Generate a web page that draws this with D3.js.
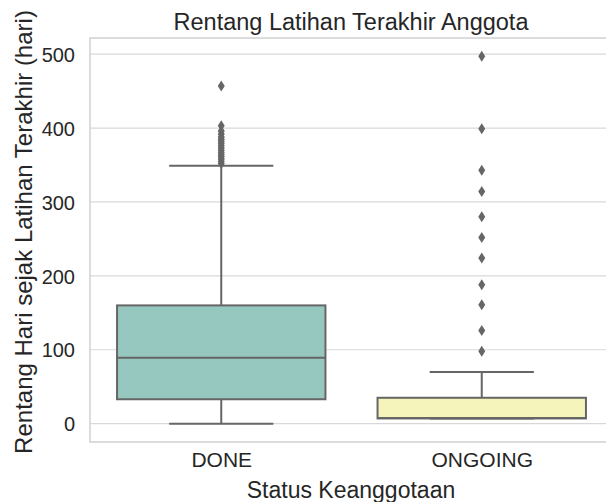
<!DOCTYPE html>
<html>
<head>
<meta charset="utf-8">
<script src="https://cdn.jsdelivr.net/npm/d3@7/dist/d3.min.js"></script>
<style>
  html, body { margin: 0; padding: 0; background: #ffffff; }
  svg { display: block; }
  text { font-family: "Liberation Sans", Arial, sans-serif; fill: #262626; }
</style>
</head>
<body>
<svg id="chart" width="606" height="502"></svg>
<script>
// ---- data ----
const categories = ["DONE", "ONGOING"];
const q1Values = [33, 7];
const medianValues = [89, 7.5];
const q3Values = [160, 35];
const whiskerLow = [0, 7];
const whiskerHigh = [349, 70];
const outliersDone = [352, 355, 358, 361, 364, 367, 370, 373, 376, 379, 382, 385, 388, 392, 396, 403, 457];
const outliersOngoing = [98, 126, 161, 188, 224, 252, 280, 314, 343, 399, 497];
const yTicks = [0, 100, 200, 300, 400, 500];
const fillColors = ["#96c8bf", "#f5f5bb"];

const outliers = [outliersDone, outliersOngoing];
const boxes = categories.map((c, i) => ({
  cat: c, q1: q1Values[i], med: medianValues[i], q3: q3Values[i],
  lo: whiskerLow[i], hi: whiskerHigh[i], out: outliers[i], fill: fillColors[i]
}));

// ---- layout ----
const svg = d3.select("#chart");
const pLeft = 90, pTop = 38, pBottom = 442, pRight = 612;
const lineColor = "#666666";

const x = d3.scalePoint().domain(categories).range([91, 612]).padding(0.5);
const step = x.step();
const y = d3.scaleLinear().domain([-24.85, 521.85]).range([pBottom, pTop]);

// grid
svg.append("g").selectAll("line").data(yTicks).join("line")
  .attr("x1", pLeft).attr("x2", pRight)
  .attr("y1", d => y(d)).attr("y2", d => y(d))
  .attr("stroke", "#d9d9d9").attr("stroke-width", 1.2);

// frame
svg.append("rect").attr("x", pLeft).attr("y", pTop)
  .attr("width", pRight - pLeft).attr("height", pBottom - pTop)
  .attr("fill", "none").attr("stroke", "#d4d4d4").attr("stroke-width", 1.6);

// y axis labels
const yAxis = d3.axisLeft(y).tickValues(yTicks).tickSize(0).tickPadding(0);
const yg = svg.append("g").attr("transform", `translate(${75},0)`).call(yAxis);
yg.select(".domain").remove();
yg.selectAll("text").attr("font-size", 20).attr("fill", "#262626")
  .attr("font-family", "Liberation Sans, Arial, sans-serif").attr("dy", "0.36em");

// x axis labels
const xAxis = d3.axisBottom(x).tickSize(0).tickPadding(0);
const xg = svg.append("g").attr("transform", `translate(0,${452})`).call(xAxis);
xg.select(".domain").remove();
xg.selectAll("text").attr("font-size", 21).attr("fill", "#262626")
  .attr("font-family", "Liberation Sans, Arial, sans-serif").attr("dy", "0.71em");

// boxes
const bw = step * 0.8, cw = step * 0.4;
const g = svg.append("g");
boxes.forEach(b => {
  const cx = x(b.cat);
  g.append("line").attr("x1", cx).attr("x2", cx).attr("y1", y(b.q3)).attr("y2", y(b.hi))
    .attr("stroke", lineColor).attr("stroke-width", 2);
  g.append("line").attr("x1", cx).attr("x2", cx).attr("y1", y(b.q1)).attr("y2", y(b.lo))
    .attr("stroke", lineColor).attr("stroke-width", 2);
  [b.lo, b.hi].forEach(v => {
    g.append("line").attr("x1", cx - cw / 2).attr("x2", cx + cw / 2)
      .attr("y1", y(v)).attr("y2", y(v)).attr("stroke", lineColor).attr("stroke-width", 2);
  });
  g.append("rect").attr("x", cx - bw / 2).attr("y", y(b.q3))
    .attr("width", bw).attr("height", y(b.q1) - y(b.q3))
    .attr("fill", b.fill).attr("stroke", lineColor).attr("stroke-width", 2);
  g.append("line").attr("x1", cx - bw / 2).attr("x2", cx + bw / 2)
    .attr("y1", y(b.med)).attr("y2", y(b.med)).attr("stroke", lineColor).attr("stroke-width", 2);
  g.append("g").selectAll("path").data(b.out).join("path")
    .attr("d", "M0,-5.5L3.5,0L0,5.5L-3.5,0Z")
    .attr("transform", d => `translate(${cx},${y(d)})`)
    .attr("fill", lineColor);
});

// title
svg.append("text").attr("x", (pLeft + pRight) / 2).attr("y", 30)
  .attr("text-anchor", "middle").attr("font-size", 23.5).text("Rentang Latihan Terakhir Anggota");

// axis titles
svg.append("text").attr("x", (pLeft + pRight) / 2).attr("y", 498)
  .attr("text-anchor", "middle").attr("font-size", 23).text("Status Keanggotaan");
svg.append("text").attr("transform", `translate(32,232) rotate(-90)`)
  .attr("text-anchor", "middle").attr("font-size", 24).text("Rentang Hari sejak Latihan Terakhir (hari)");
</script>
</body>
</html>
